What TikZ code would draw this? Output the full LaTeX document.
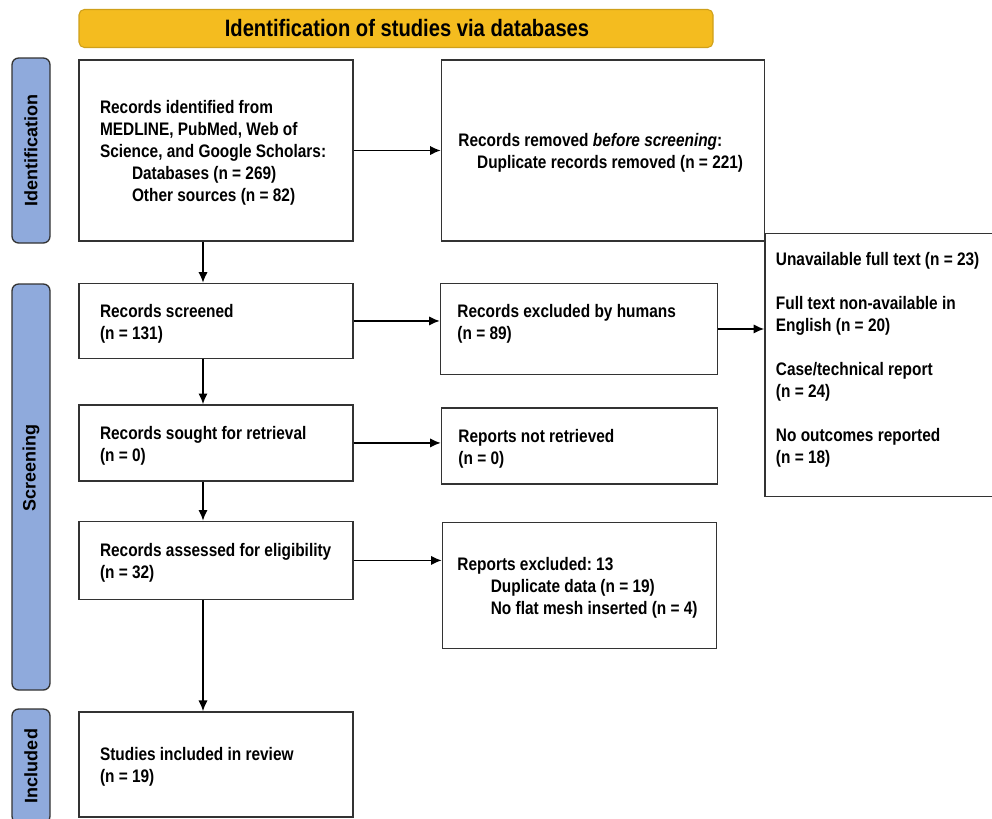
\documentclass[tikz,border=0pt]{standalone}
\usepackage{fontspec}
\setmainfont[FakeStretch=0.85]{Liberation Sans}
\newfontfamily\sidefont{Liberation Sans}
\usepackage{xcolor}
\usetikzlibrary{arrows.meta,positioning,calc}

\definecolor{prismagold}{HTML}{F4BC1F}
\definecolor{prismablue}{HTML}{8FAADC}
\definecolor{prismaline}{HTML}{333333}
\newcommand{\bodyfont}{\frenchspacing\bfseries\fontsize{13.6}{16.5}\selectfont}
% left-aligned lines in a box of fixed width
\newcommand{\boxtext}[2]{\makebox[#1][l]{\begin{tabular}{@{}l@{}}\rule{0pt}{16pt}#2\end{tabular}}}

\begin{document}
\begin{tikzpicture}[
    x=0.75pt, y=-0.75pt,
    box/.style={rectangle, draw=prismaline, line width=1.1pt, fill=white, inner xsep=15.75pt, inner ysep=0pt, font=\bodyfont},
    sidebox/.style={box, inner xsep=12.75pt},
    phase/.style={rectangle, rounded corners=5pt, draw=prismaline, line width=1pt, fill=prismablue, rotate=90, minimum height=28.5pt, font=\sidefont\bfseries\fontsize{13.5}{16}\selectfont},
    banner/.style={rectangle, rounded corners=4pt, draw=prismagold!85!black, line width=0.8pt, fill=prismagold, minimum width=475.5pt, minimum height=28.5pt, font=\bfseries\fontsize{17.8}{20}\selectfont},
    arrow/.style={-{Latex[length=8pt,width=7pt]}, line width=1.1pt, black}
]
    \useasboundingbox (0,0) rectangle (992,818);

    % header and phases
    \node[banner] (head) at (396,28.5) {\hspace*{16.5pt}Identification of studies via databases};
    \node[phase, minimum width=138.75pt] (phid) at (31,150.5) {Identification};
    \node[phase, minimum width=304.5pt] (phscr) at (31,487) {\hspace*{29pt}Screening};
    \node[phase, minimum width=85.5pt] (phinc) at (31,766) {Included};

    % main column
    \node[box, minimum width=205.5pt, minimum height=135.75pt] (ident) at (216,150.5)
        {\boxtext{174pt}{Records identified from\\MEDLINE, PubMed,  Web of\\Science, and Google Scholars:\\
         \hspace*{24pt}Databases (n = 269)\\\hspace*{24pt}Other sources (n = 82)}};
    \node[box, minimum width=205.5pt, minimum height=56.25pt, below=30.75pt of ident] (screened)
        {\boxtext{174pt}{Records screened\\(n = 131)}};
    \node[box, minimum width=205.5pt, minimum height=57pt, below=33.75pt of screened] (sought)
        {\boxtext{174pt}{Records sought for retrieval\\(n = 0)}};
    \node[box, minimum width=205.5pt, minimum height=58.5pt, below=29.25pt of sought] (assessed)
        {\boxtext{174pt}{Records assessed for eligibility\\(n = 32)}};
    \node[box, minimum width=205.5pt, minimum height=78.75pt, below=83.25pt of assessed] (included)
        {\boxtext{174pt}{Studies included in review\\(n = 19)}};

    % right column
    \node[sidebox, minimum width=242.25pt, minimum height=135.75pt, right=65.25pt of ident] (removed)
        {\boxtext{216.75pt}{Records removed \textit{before screening}:\\\hspace*{14pt}Duplicate records removed (n = 221)}};
    \node[sidebox, minimum width=207.75pt, minimum height=68.25pt, right=64.5pt of screened, yshift=-6pt] (excl)
        {\boxtext{182.25pt}{Records excluded by humans\\(n = 89)\\[12pt]}};
    \node[sidebox, minimum width=207pt, minimum height=57pt, right=65.25pt of sought, yshift=-2.25pt] (notret)
        {\boxtext{181.5pt}{Reports not retrieved\\(n = 0)}};
    \node[sidebox, inner xsep=11.25pt, minimum width=205.5pt, minimum height=94.5pt, right=66pt of assessed, yshift=-18.75pt] (repexcl)
        {\boxtext{183pt}{Reports excluded: 13\\\hspace*{25pt}Duplicate data (n = 19)\\\hspace*{25pt}No flat mesh inserted (n = 4)}};
    \node[sidebox, inner xsep=8.25pt, minimum width=180pt, minimum height=197.25pt, right=34.5pt of excl, yshift=-27pt] (reasons)
        {\boxtext{163.5pt}{Unavailable full text (n = 23)\\[16.5pt]Full text non-available in\\English (n = 20)\\[16.5pt]
         Case/technical report\\(n = 24)\\[16.5pt]No outcomes reported\\(n = 18)\\[12pt]}};

    \coordinate (spine) at (203,0);

    % connectors
    \draw[arrow] (ident) -- (removed);
    \draw[arrow] (ident.south -| spine) -- (screened.north -| spine);
    \draw[arrow] (screened.east) -- (screened.east -| excl.west);
    \draw[arrow] (excl.east) -- (excl.east -| reasons.west);
    \draw[arrow] (screened.south -| spine) -- (sought.north -| spine);
    \draw[arrow] (sought.east) -- (sought.east -| notret.west);
    \draw[arrow] (sought.south -| spine) -- (assessed.north -| spine);
    \draw[arrow] (assessed.east) -- (assessed.east -| repexcl.west);
    \draw[arrow] (assessed.south -| spine) -- (included.north -| spine);
\end{tikzpicture}
\end{document}
